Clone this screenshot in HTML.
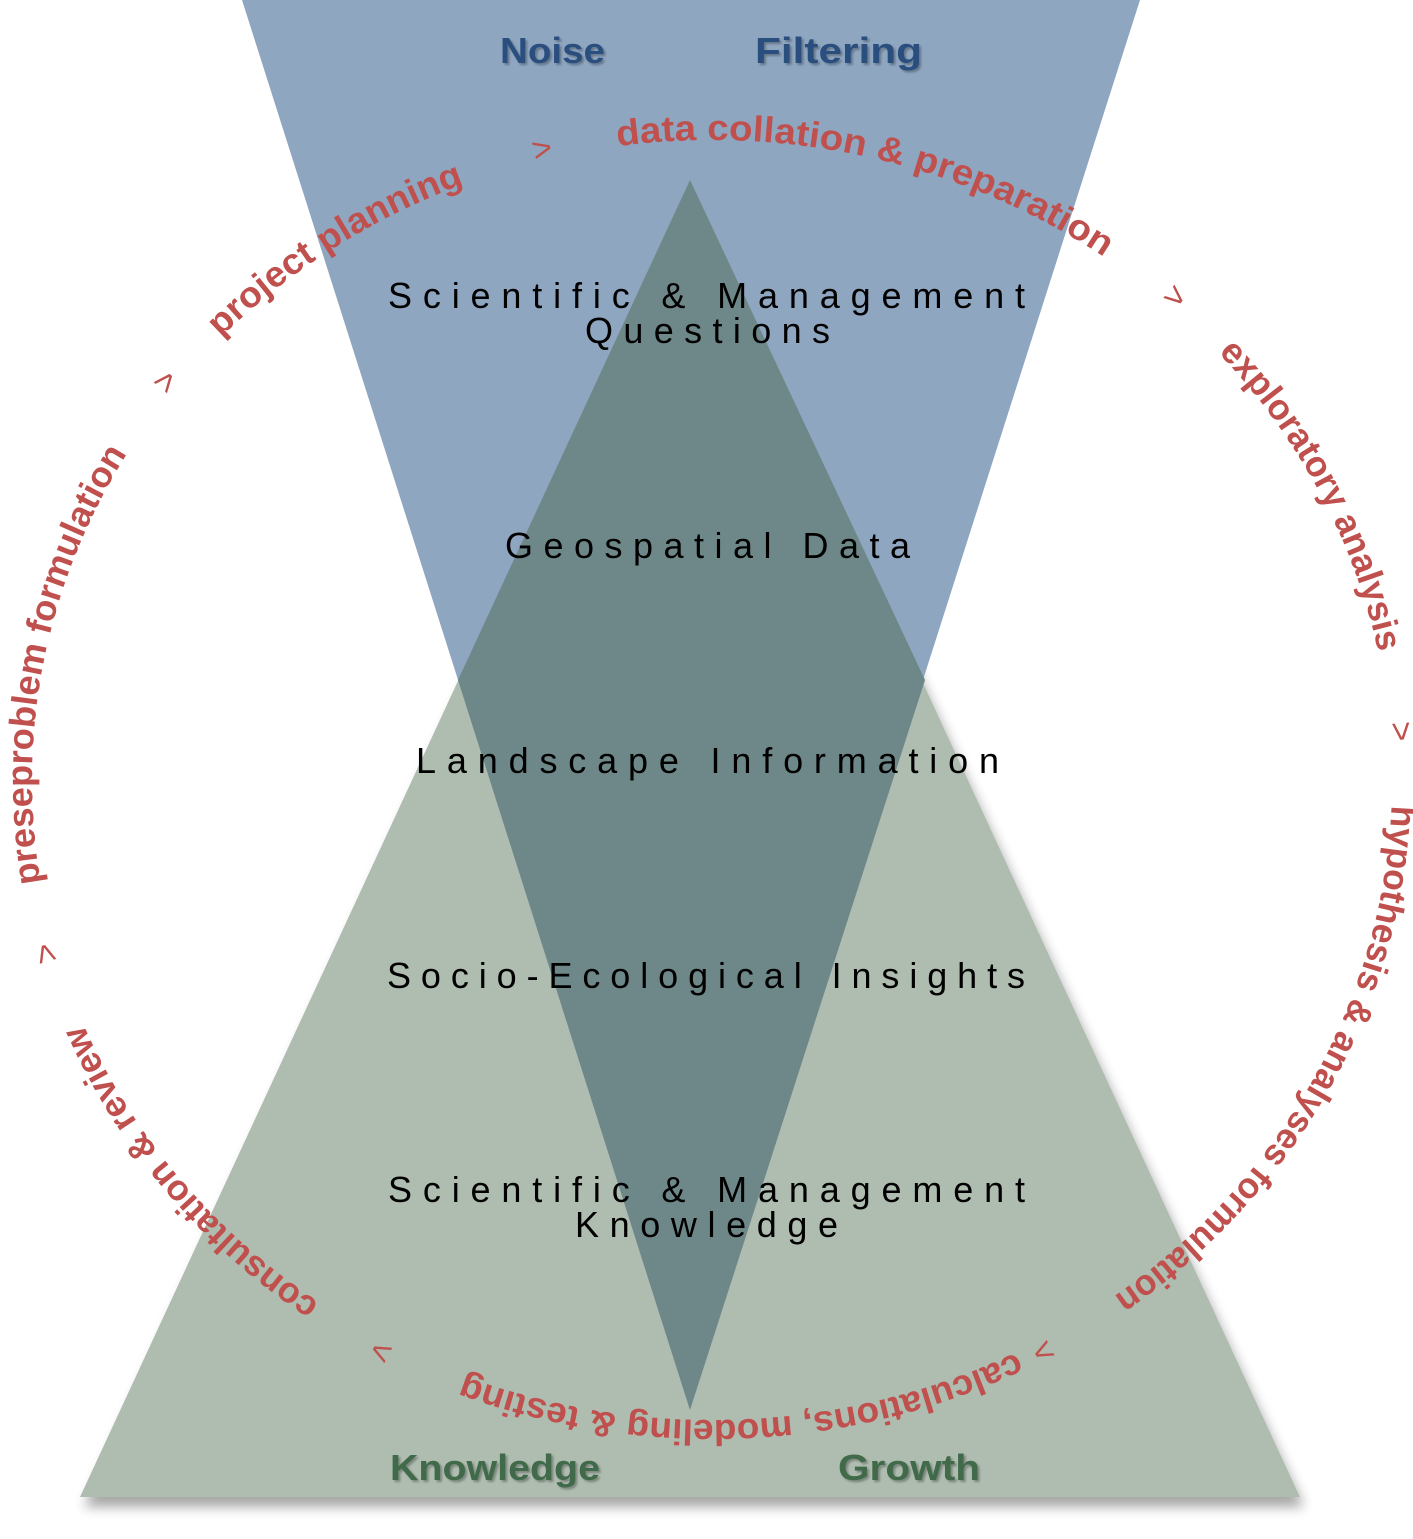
<!DOCTYPE html>
<html><head><meta charset="utf-8"><style>html,body{margin:0;padding:0;background:#fff}svg{display:block}</style></head>
<body>
<svg width="1413" height="1539" viewBox="0 0 1413 1539" xmlns="http://www.w3.org/2000/svg">
<defs>
<filter id="sh" x="-10%" y="-10%" width="120%" height="120%"><feGaussianBlur in="SourceAlpha" stdDeviation="6"/><feOffset dx="4" dy="10"/><feComponentTransfer><feFuncA type="linear" slope="0.35"/></feComponentTransfer><feMerge><feMergeNode/><feMergeNode in="SourceGraphic"/></feMerge></filter>
<filter id="ts"><feGaussianBlur in="SourceAlpha" stdDeviation="1"/><feOffset dx="2" dy="2"/><feComponentTransfer><feFuncA type="linear" slope="0.3"/></feComponentTransfer><feMerge><feMergeNode/><feMergeNode in="SourceGraphic"/></feMerge></filter>
<path id="ring" d="M32,780 A680,640 0 1,1 1392,780 A680,640 0 1,1 32,780 A680,640 0 1,1 1392,780 A680,640 0 1,1 32,780" fill="none"/>
</defs>
<polygon points="690,180 1300,1497 80,1497" fill="#afbcb0" filter="url(#sh)"/>
<polygon points="242,0 1140,0 690,1410" fill="#8fa6c1"/>
<polygon points="690,180 925,680 690,1410 458,680" fill="#6e8889"/>

<g font-family="Liberation Sans, sans-serif" font-size="36" fill="#000" text-anchor="start">
<text x="388" y="308" textLength="637" lengthAdjust="spacing">Scientific &amp; Management</text>
<text x="585" y="343" textLength="245" lengthAdjust="spacing">Questions</text>
<text x="505" y="558" textLength="405" lengthAdjust="spacing">Geospatial Data</text>
<text x="416" y="773" textLength="583" lengthAdjust="spacing">Landscape Information</text>
<text x="387" y="988" textLength="638" lengthAdjust="spacing">Socio-Ecological Insights</text>
<text x="388" y="1202" textLength="637" lengthAdjust="spacing">Scientific &amp; Management</text>
<text x="575" y="1237" textLength="263" lengthAdjust="spacing">Knowledge</text>
</g>

<g font-family="Liberation Sans, sans-serif" font-weight="bold" font-size="36" filter="url(#ts)">
<text x="500" y="63" fill="#2b4f7e" textLength="105" lengthAdjust="spacingAndGlyphs">Noise</text>
<text x="755" y="63" fill="#2b4f7e" textLength="167" lengthAdjust="spacingAndGlyphs">Filtering</text>
<text x="390" y="1480" fill="#3f6a4a" textLength="210" lengthAdjust="spacingAndGlyphs">Knowledge</text>
<text x="838" y="1480" fill="#3f6a4a" textLength="142" lengthAdjust="spacingAndGlyphs">Growth</text>
</g>

<g font-family="Liberation Sans, sans-serif" font-weight="bold" font-size="36" fill="#c0504d">
<text><textPath href="#ring" startOffset="494" textLength="290" lengthAdjust="spacingAndGlyphs">project planning</textPath></text>
<text><textPath href="#ring" startOffset="942" textLength="510" lengthAdjust="spacingAndGlyphs">data collation &amp; preparation</textPath></text>
<text><textPath href="#ring" startOffset="1601" textLength="344" lengthAdjust="spacingAndGlyphs">exploratory analysis</textPath></text>
<text><textPath href="#ring" startOffset="2099" textLength="585" lengthAdjust="spacingAndGlyphs">hypothesis &amp; analyses formulation</textPath></text>
<text><textPath href="#ring" startOffset="2796" textLength="568" lengthAdjust="spacingAndGlyphs">calculations, modeling &amp; testing</textPath></text>
<text><textPath href="#ring" startOffset="3526" textLength="370" lengthAdjust="spacingAndGlyphs">consultation &amp; review</textPath></text>
<text><textPath href="#ring" startOffset="4044" textLength="448" lengthAdjust="spacingAndGlyphs">preseproblem formulation</textPath></text>
</g>
<g font-family="Liberation Sans, sans-serif" font-size="34" fill="#c0504d">
<text><textPath href="#ring" startOffset="415">&gt;</textPath></text>
<text><textPath href="#ring" startOffset="858">&gt;</textPath></text>
<text><textPath href="#ring" startOffset="1522">&gt;</textPath></text>
<text><textPath href="#ring" startOffset="2016">&gt;</textPath></text>
<text><textPath href="#ring" startOffset="2762">&gt;</textPath></text>
<text><textPath href="#ring" startOffset="3439">&gt;</textPath></text>
<text><textPath href="#ring" startOffset="3965">&gt;</textPath></text>
</g>
</svg>
</body></html>
